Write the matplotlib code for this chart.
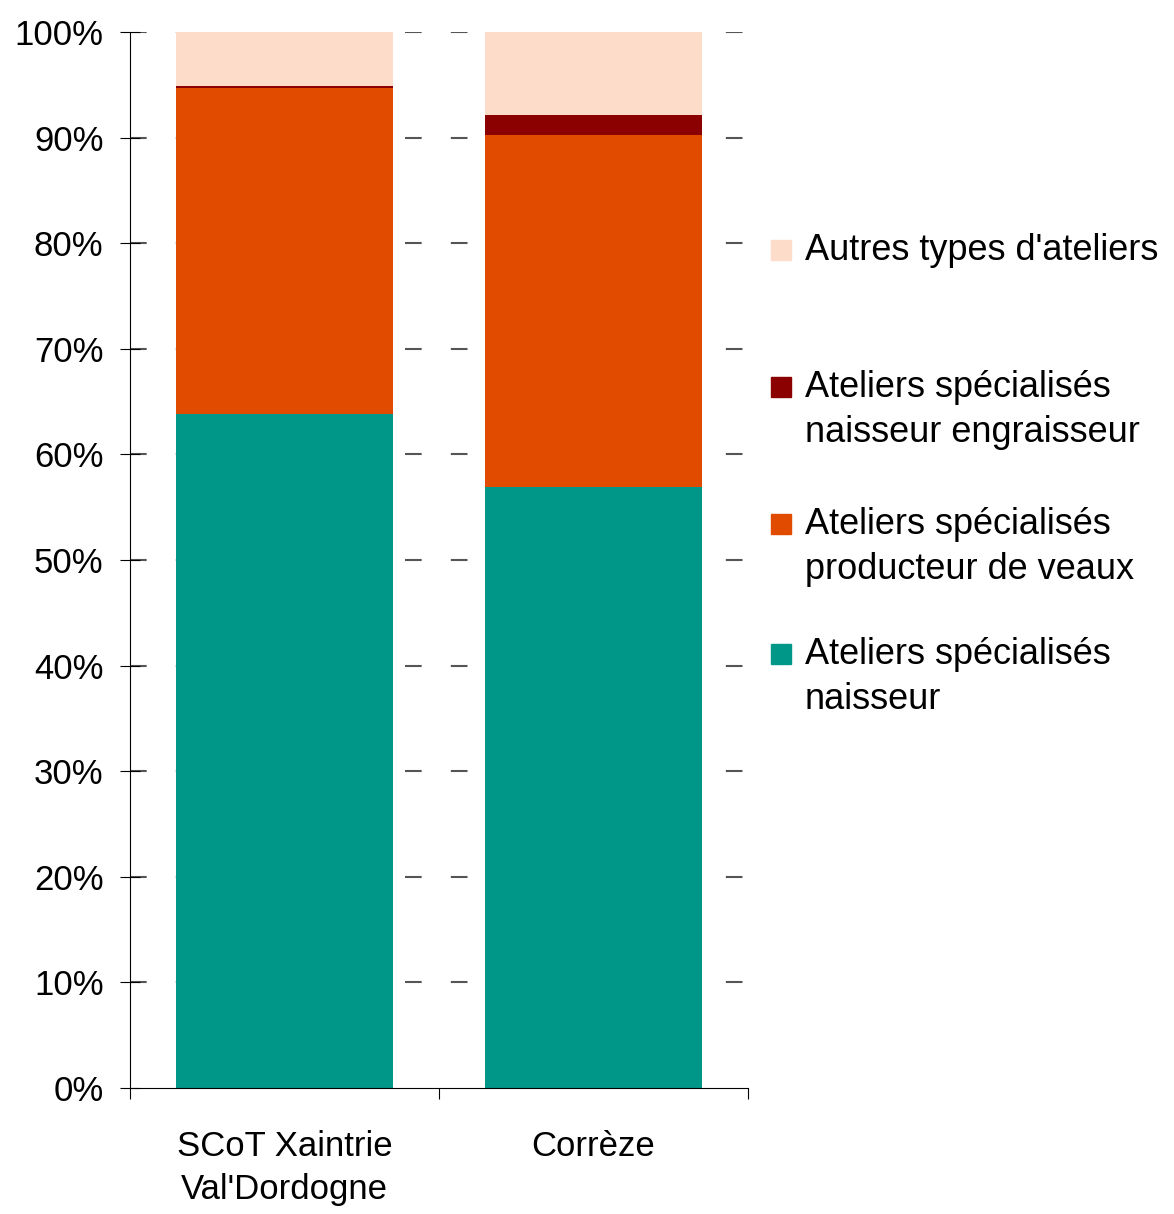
import matplotlib.pyplot as plt
import numpy as np
from matplotlib.patches import Rectangle

plt.rcParams['font.family'] = ['Liberation Sans', 'DejaVu Sans']

categories = ["SCoT Xaintrie\nVal'Dordogne", "Corrèze"]
series_names = ["Ateliers spécialisés\nnaisseur",
                "Ateliers spécialisés\nproducteur de veaux",
                "Ateliers spécialisés\nnaisseur engraisseur",
                "Autres types d'ateliers"]
naisseur = [63.8, 56.9]
producteur_veaux = [30.9, 33.3]
naisseur_engraisseur = [0.2, 1.9]
autres = [5.1, 7.9]
colors = ['#009688', '#E04B00', '#8B0000', '#FDDCC9']

W, H = 1174, 1214
fig = plt.figure(figsize=(W / 100, H / 100), dpi=100)
ax = fig.add_axes([130 / W, 1 - 1088 / H, 618 / W, 1056 / H])

x = np.arange(len(categories))
bottom = np.zeros(len(categories))
for vals, col in zip([naisseur, producteur_veaux, naisseur_engraisseur, autres], colors):
    ax.bar(x, vals, bottom=bottom, width=0.705, color=col, zorder=2)
    bottom += np.array(vals)

ax.set_xlim(-0.5, 1.5)
ax.set_ylim(0, 100)
ax.set_yticks(np.arange(0, 101, 10))
ax.set_yticklabels([f"{v}%" for v in range(0, 101, 10)], fontsize=25)
for v in range(10, 101, 10):
    ax.axhline(v, color='#555555', lw=1.5, ls=(0, (8, 14)), zorder=1)

ax.set_xticks([-0.5, 0.5, 1.5], minor=False)
ax.set_xticklabels([])
ax.set_xticks(x, minor=True)
ax.set_xticklabels(categories, minor=True, fontsize=25, linespacing=1.4)
ax.tick_params(axis='x', which='minor', length=0, pad=30)
ax.tick_params(axis='x', which='major', direction='out', length=8)
ax.tick_params(axis='y', direction='inout', length=14, pad=12)

for s in ['top', 'right']:
    ax.spines[s].set_visible(False)
ax.spines['left'].set_clip_on(False)

# legend drawn by hand, top entry first (pixel centres of each entry)
legend_y = [677, 547, 410, 250]
for name, col, yc in zip(series_names, colors, legend_y):
    first_line_y = yc if '\n' not in name else yc - 23
    fig.patches.append(Rectangle((771 / W, 1 - (first_line_y + 10) / H), 20 / W, 20 / H,
                                 transform=fig.transFigure, color=col, figure=fig))
    fig.text(805 / W, 1 - yc / H, name, fontsize=26, va='center', ha='left',
             linespacing=1.35)

fig.savefig('out.png')
